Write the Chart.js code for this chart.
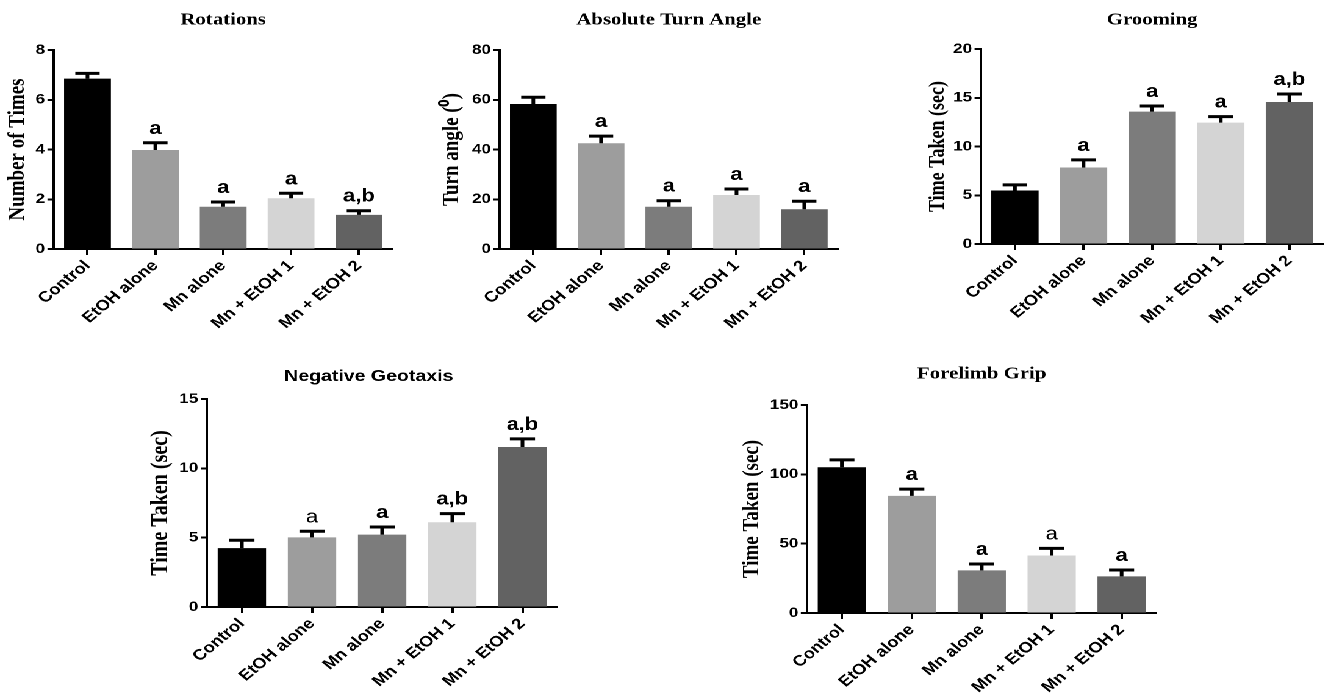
<!DOCTYPE html>
<html>
<head>
<meta charset="utf-8">
<script src="https://cdn.jsdelivr.net/npm/chart.js@4.4.1/dist/chart.umd.min.js"></script>
<style>
  html, body { margin: 0; padding: 0; background: #fff; overflow: hidden; }
  #fig { position: absolute; left: 0; top: 0; width: 1085px; height: 699px;
         transform: scaleX(1.22); transform-origin: 0 0; }
  #fig canvas { position: absolute; }
</style>
</head>
<body>
<div id="fig"></div>
<script>
// Treatment groups (x categories)
const groups = ['Control', 'EtOH alone', 'Mn alone', 'Mn + EtOH 1', 'Mn + EtOH 2'];

// Rotations (number of times), mean and SEM
const rotationsMean = [6.85, 3.98, 1.70, 2.04, 1.37];
const rotationsSem  = [0.21, 0.29, 0.19, 0.20, 0.17];
const rotationsMarks = ['', 'a', 'a', 'a', 'a,b'];

// Absolute turn angle (degrees)
const turnMean = [58.3, 42.5, 17.0, 21.7, 16.0];
const turnSem  = [2.7, 2.9, 2.4, 2.4, 3.2];
const turnMarks = ['', 'a', 'a', 'a', 'a'];

// Grooming time (sec)
const groomMean = [5.49, 7.85, 13.58, 12.45, 14.57];
const groomSem  = [0.58, 0.78, 0.58, 0.62, 0.82];
const groomMarks = ['', 'a', 'a', 'a', 'a,b'];

// Negative geotaxis time (sec)
const geoMean = [4.25, 5.02, 5.22, 6.11, 11.54];
const geoSem  = [0.56, 0.44, 0.55, 0.62, 0.58];
const geoMarks = ['', 'a', 'a', 'a,b', 'a,b'];

// Forelimb grip time (sec)
const gripMean = [105.1, 84.5, 30.7, 41.5, 26.4];
const gripSem  = [5.3, 4.8, 4.6, 5.1, 4.6];
const gripMarks = ['', 'a', 'a', 'a', 'a'];

// Y axis ranges: [max, step]
const rotationsAxis = [8, 2];
const turnAxis = [80, 20];
const groomAxis = [20, 5];
const geoAxis = [15, 5];
const gripAxis = [150, 50];

const barColors = ['#000000', '#9d9d9d', '#7c7c7c', '#d4d4d4', '#626262'];
const SANS = '"Liberation Sans", Arial, sans-serif';
const SERIF = '"Liberation Serif", "Times New Roman", serif';

// Error bars, significance letters and panel heading
const panelDecor = {
  id: 'panelDecor',
  afterDatasetsDraw(chart, args, o) {
    const ctx = chart.ctx;
    const y = chart.scales.y;
    const ds = chart.data.datasets[0];
    const meta = chart.getDatasetMeta(0);
    ctx.save();
    ctx.strokeStyle = '#000';
    ctx.fillStyle = '#000';
    ctx.lineWidth = 3;
    ctx.lineCap = 'butt';
    meta.data.forEach((bar, i) => {
      const v = ds.data[i];
      const yBar = y.getPixelForValue(v);
      const yTop = y.getPixelForValue(v + o.sem[i]);
      const half = bar.width * 0.26;
      ctx.beginPath();
      ctx.moveTo(bar.x, yBar);
      ctx.lineTo(bar.x, yTop);
      ctx.moveTo(bar.x - half, yTop);
      ctx.lineTo(bar.x + half, yTop);
      ctx.stroke();
      const m = o.marks[i];
      if (m) {
        ctx.font = (o.plain.includes(i) ? '' : 'bold ') + '18px ' + SANS;
        ctx.textAlign = 'center';
        ctx.textBaseline = 'alphabetic';
        ctx.fillText(m, bar.x, yTop - 9);
      }
    });
    const a = chart.chartArea;
    ctx.font = o.titleFont;
    ctx.textAlign = 'center';
    ctx.textBaseline = 'middle';
    ctx.fillText(o.title, (a.left + a.right) / 2 + o.titleDx, a.top - o.titleGap);
    ctx.restore();
  }
};

function makePanel(p) {
  const padT = 45, XH = 100, padR = 10;
  const YW = p.yTitleDist + 0.6 * p.yTitleSize;
  const canvas = document.createElement('canvas');
  const w = Math.round(YW + (p.R - p.L) + padR);
  const h = Math.round((p.B - p.T) + padT + XH);
  canvas.style.left = (p.L - YW) + 'px';
  canvas.style.top = (p.T - padT) + 'px';
  canvas.width = w; canvas.height = h;
  canvas.style.width = w + 'px'; canvas.style.height = h + 'px';
  document.getElementById('fig').appendChild(canvas);

  new Chart(canvas, {
    type: 'bar',
    data: {
      labels: groups,
      datasets: [{
        data: p.mean,
        backgroundColor: barColors,
        borderWidth: 0,
        categoryPercentage: 1,
        barPercentage: 0.69
      }]
    },
    options: {
      responsive: false,
      animation: false,
      devicePixelRatio: 2,
      layout: { padding: { left: 0, top: padT, right: padR, bottom: 0 } },
      plugins: {
        legend: { display: false },
        tooltip: { enabled: false },
        panelDecor: {
          sem: p.sem, marks: p.marks, plain: p.plain,
          title: p.title, titleFont: p.titleFont, titleGap: p.titleGap, titleDx: p.titleDx
        }
      },
      scales: {
        x: {
          offset: true,
          border: { display: true, color: '#000', width: 2 },
          grid: { display: true, offset: false, drawOnChartArea: false, drawTicks: true,
                  tickLength: 6, tickColor: '#000', tickWidth: 2, color: '#000' },
          ticks: { color: '#000', font: { family: SANS, size: 15, weight: 'bold' },
                   minRotation: 45, maxRotation: 45, autoSkip: false, padding: 2 },
          afterFit(s) { s.height = XH; }
        },
        y: {
          min: 0, max: p.axis[0],
          border: { display: true, color: '#000', width: 2 },
          grid: { display: true, drawOnChartArea: false, drawTicks: true,
                  tickLength: 5, tickColor: '#000', tickWidth: 2, color: '#000' },
          ticks: { stepSize: p.axis[1], color: '#000', padding: 2,
                   font: { family: SANS, size: 14, weight: 'bold' } },
          title: { display: true, text: p.yTitle, color: '#000',
                   padding: { top: 0, bottom: 0 },
                   font: { family: SERIF, size: p.yTitleSize, weight: 'bold' } },
          afterFit(s) { s.width = YW; }
        }
      }
    },
    plugins: [panelDecor]
  });
}

const serifTitle = 'bold 17px ' + SERIF;

makePanel({ title: 'Rotations', titleFont: serifTitle, titleGap: 30, titleDx: 0,
  yTitle: 'Number of Times', yTitleSize: 19, yTitleDist: 29.5,
  mean: rotationsMean, sem: rotationsSem, marks: rotationsMarks, plain: [], axis: rotationsAxis,
  L: 43.4, R: 321.3, T: 50, B: 249 });

makePanel({ title: 'Absolute Turn Angle', titleFont: serifTitle, titleGap: 30, titleDx: 0,
  yTitle: 'Turn angle (\u2070)', yTitleSize: 19, yTitleDist: 39,
  mean: turnMean, sem: turnSem, marks: turnMarks, plain: [], axis: turnAxis,
  L: 409.8, R: 687.7, T: 50, B: 249 });

makePanel({ title: 'Grooming', titleFont: serifTitle, titleGap: 29, titleDx: 0,
  yTitle: 'Time Taken (sec)', yTitleSize: 18, yTitleDist: 35,
  mean: groomMean, sem: groomSem, marks: groomMarks, plain: [], axis: groomAxis,
  L: 803.3, R: 1084, T: 49, B: 244.3 });

makePanel({ title: 'Negative Geotaxis', titleFont: 'bold 16px ' + SANS, titleGap: 22.5, titleDx: -11,
  yTitle: 'Time Taken (sec)', yTitleSize: 20, yTitleDist: 37.5,
  mean: geoMean, sem: geoSem, marks: geoMarks, plain: [1], axis: geoAxis,
  L: 169.7, R: 457.4, T: 399.3, B: 607.3 });

makePanel({ title: 'Forelimb Grip', titleFont: serifTitle, titleGap: 31, titleDx: 0,
  yTitle: 'Time Taken (sec)', yTitleSize: 19, yTitleDist: 45,
  mean: gripMean, sem: gripSem, marks: gripMarks, plain: [3], axis: gripAxis,
  L: 661.5, R: 948.4, T: 405, B: 613.3 });
</script>
</body>
</html>
